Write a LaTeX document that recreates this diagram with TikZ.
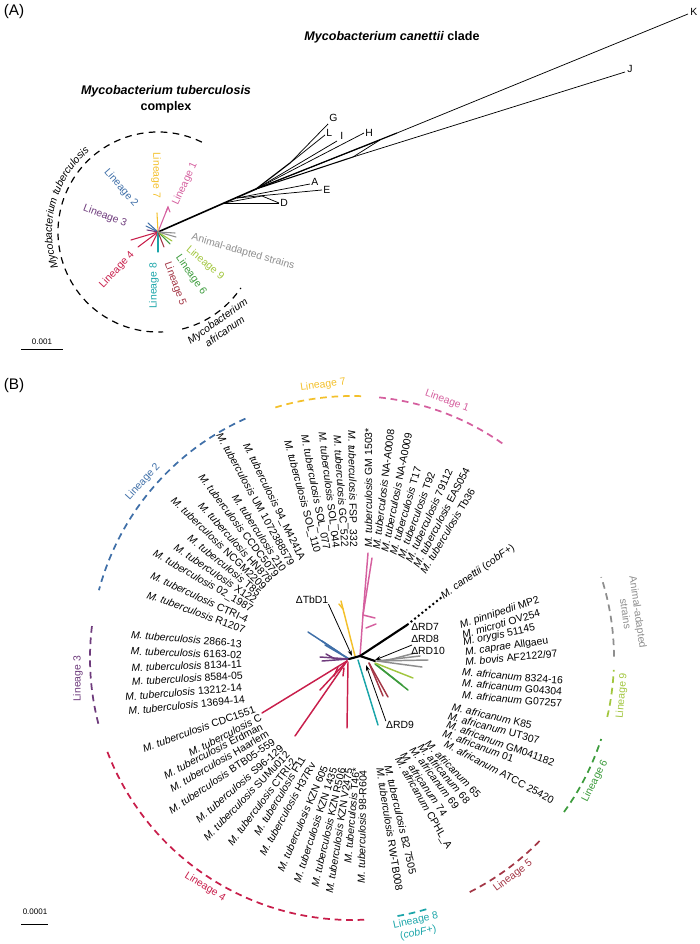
\documentclass[tikz,border=0pt]{standalone}
\usepackage{fontspec}
\setmainfont{Liberation Sans}
\usetikzlibrary{arrows.meta,calc,decorations.text}
\definecolor{cLa}{HTML}{D5609F}
\definecolor{cLg}{HTML}{F3C02B}
\definecolor{cLb}{HTML}{3F6FA8}
\definecolor{cLc}{HTML}{6E3B7C}
\definecolor{cLd}{HTML}{C81E4B}
\definecolor{cLh}{HTML}{1BA5A9}
\definecolor{cLe}{HTML}{A33645}
\definecolor{cLf}{HTML}{3C9B3C}
\definecolor{cLi}{HTML}{A2C63F}
\definecolor{cAn}{HTML}{8E8E8E}
\newcommand\Mtb{\textit{M. tuberculosis}}
\newcommand\Maf{\textit{M. africanum}}
\newcommand\lfR[4]{\path (C) ++(#2:111) node[leaf,anchor=west,rotate=#3] (#1) {#4};}
\newcommand\lfL[4]{\path (C) ++(#2:111) node[leaf,anchor=east,rotate=#3] (#1) {#4};}
\newcommand\aR[5]{\node[leaf,anchor=west,rotate=#4] (#1) at (#2,-#3) {#5};}
\newcommand\aL[5]{\node[leaf,anchor=east,rotate=#4] (#1) at (#2,-#3) {#5};}
\begin{document}
\begin{tikzpicture}[x=0.75pt,y=0.75pt,
  lbl/.style={font=\fontsize{7.8}{9.4}\selectfont, inner sep=0pt, align=center},
  leaf/.style={font=\fontsize{7.8}{9.4}\selectfont, inner sep=0pt},
  ttl/.style={font=\fontsize{9.4}{12}\selectfont\bfseries, inner sep=0pt, align=center},
  panel/.style={font=\fontsize{11.5}{13}\selectfont, inner sep=0pt},
  arcA/.style={line width=0.9pt, dash pattern=on 5pt off 4pt},
  arcB/.style={line width=1.3pt, dash pattern=on 5pt off 3.6pt},
  brA/.style={line width=0.55pt},
  brC/.style={line width=0.8pt, line cap=round},
  brB/.style={line width=1.1pt, line cap=round},
  blk/.style={line width=1.6pt, line cap=round},
  pt/.style={-{Stealth[length=4.5pt,width=3pt]}, line width=0.6pt},
  tip/.style={font=\fontsize{7.8}{9.4}\selectfont, inner sep=0pt, anchor=west},
]
\useasboundingbox (0,0) rectangle (699,-944);

% ---------------- Panel A ----------------
\node[panel] (pA) at (14,-12) {(A)};
\node[ttl] (tcan) at (392,-37) {\textit{Mycobacterium canettii} clade};
\node[ttl] (tmtbc) at (166,-99) {\textit{Mycobacterium tuberculosis}\\complex};

\coordinate (P) at (158,-232);
\coordinate (T1) at (224,-203);
\coordinate (T2) at (237,-198);
\coordinate (T3) at (256,-189);
\coordinate (T4) at (290,-163);
\coordinate (T5) at (353,-157);
\coordinate (T6) at (397,-133);
\coordinate (eK) at (688,-14);
\coordinate (eJ) at (625,-72);
\coordinate (eH) at (364,-133);
\coordinate (eI) at (337,-141);
\coordinate (eL) at (325,-135);
\coordinate (eG) at (328,-124);
\coordinate (eA) at (310,-184);
\coordinate (eE) at (322,-190);
\coordinate (eD) at (279,-203);
\coordinate (eX) at (380,-140);

\draw[line width=1.2pt] (P) -- (T3);
\draw[brA] (T1) -- (eD);
\draw[brA] (T1) -- (262,-196) -- (eD);
\draw[brA] (T2) -- (eA);
\draw[brA] (T2) -- (eE);
\draw[line width=0.9pt] (T3) -- (T4);
\draw[brA] (T4) -- (eG);
\draw[brA] (T4) -- (eL);
\draw[brA] (T3) -- (eI);
\draw[brA] (T3) -- (eH);
\draw[line width=0.9pt] (T3) -- (T6);
\draw[brA] (T6) -- (eK);
\draw[brA] (T3) -- (eX);
\draw[line width=0.8pt] (T3) -- (T5);
\draw[brA] (T5) -- (eJ);
\draw[brA] (T5) -- (eX);

\node[tip] (nK) at (690,-12) {K};
\node[tip] (nJ) at (627,-69) {J};
\node[tip] (nH) at (365,-133) {H};
\node[tip] (nI) at (340,-136) {I};
\node[tip] (nL) at (326,-133) {L};
\node[tip] (nG) at (329,-118) {G};
\node[tip] (nA) at (311,-182) {A};
\node[tip] (nE) at (323,-190) {E};
\node[tip] (nD) at (280,-203) {D};

% small coloured star
\draw[brC,cLa] (P) -- (168,-207);
\draw[brC,cLa] (166,-212) -- (168,-207) -- (170,-212);
\draw[brC,cLg] (P) -- (157,-213);
\draw[brC,cLb] (P) -- (148,-223);
\draw[brC,cLb] (P) -- (146,-226);
\draw[brC,cLc] (P) -- (147,-230);
\draw[brC,cLd] (P) -- (131,-240);
\draw[brC,cLd] (P) -- (138,-247);
\draw[brC,cLd] (P) -- (151,-246);
\draw[brC,cLh] (P) -- (158,-252);
\draw[brC,cLe] (P) -- (164,-247);
\draw[brC,cLf] (P) -- (170,-244);
\draw[brC,cLi] (P) -- (172,-241);
\draw[brC,cAn] (P) -- (176,-237);
\draw[brC,cAn] (P) -- (175,-233);

% arcs
\draw[arcA] (P) ++(64:100) arc[start angle=64, end angle=273, radius=100];
\draw[arcA] (P) ++(284:100) arc[start angle=284, end angle=326, radius=100];
\path[decorate, decoration={text along path, text align=center,
   text={|\fontsize{7.8}{9}\selectfont\itshape|Mycobacterium tuberculosis}}]
   (P) ++(214:106) arc[start angle=214, end angle=116, radius=106];
\node[lbl,rotate=35] (tMaf) at (221,-326) {\textit{Mycobacterium}\\\textit{africanum}};

% lineage labels panel A
\node[lbl,cLa,rotate=65] (a1) at (185,-184) {Lineage 1};
\node[lbl,cLg,rotate=-90] (a7) at (156,-175) {Lineage 7};
\node[lbl,cLb,rotate=-49] (a2) at (121,-188) {Lineage 2};
\node[lbl,cLc,rotate=-21] (a3) at (105,-216) {Lineage 3};
\node[lbl,cLd,rotate=47] (a4) at (117,-270) {Lineage 4};
\node[lbl,cLh,rotate=90] (a8) at (154,-286) {Lineage 8};
\node[lbl,cLe,rotate=-70] (a5) at (175,-284) {Lineage 5};
\node[lbl,cLf,rotate=-55] (a6) at (191,-275) {Lineage 6};
\node[lbl,cLi,rotate=-40] (a9) at (205,-263) {Lineage 9};
\node[lbl,cAn,rotate=-16] (aan) at (243,-252) {Animal-adapted strains};

% scale bar A
\coordinate (sA1) at (21,-349);
\coordinate (sA2) at (63,-349);
\draw[line width=0.6pt] (sA1) -- (sA2);
\node[font=\fontsize{6}{7}\selectfont, inner sep=0pt] (sAt) at (42,-342) {0.001};

% ---------------- Panel B ----------------
\node[panel] (pB) at (14,-386) {(B)};
\coordinate (C) at (352,-658);

% lineage arcs
\draw[arcB,cLa] (C) ++(55:262) arc[start angle=55, end angle=85, radius=262];
\draw[arcB,cLg] (C) ++(88:262) arc[start angle=88, end angle=108, radius=262];
\draw[arcB,cLb] (C) ++(114:262) arc[start angle=114, end angle=165, radius=262];
\draw[arcB,cLc] (C) ++(173:262) arc[start angle=173, end angle=195, radius=262];
\draw[arcB,cLd] (C) ++(201:262) arc[start angle=201, end angle=273.5, radius=262];
\draw[arcB,cLh] (C) ++(280:262) arc[start angle=280, end angle=287, radius=262];
\draw[arcB,cLe] (C) ++(296.7:262) arc[start angle=296.7, end angle=316, radius=262];
\draw[arcB,cLf] (C) ++(324:262) arc[start angle=324, end angle=342, radius=262];
\draw[arcB,cLi] (C) ++(347:262) arc[start angle=347, end angle=357.4, radius=262];
\draw[arcB,cAn] (C) ++(0.3:262) arc[start angle=0.3, end angle=18, radius=262];

% lineage labels panel B
\node[lbl,cLa,rotate=-20] (b1) at (447,-401) {Lineage 1};
\node[lbl,cLg,rotate=8] (b7) at (323,-385) {Lineage 7};
\node[lbl,cLb,rotate=48] (b2) at (143,-482) {Lineage 2};
\node[lbl,cLc,rotate=90] (b3) at (78,-679) {Lineage 3};
\node[lbl,cLd,rotate=-32] (b4) at (205,-887) {Lineage 4};
\node[lbl,cLh,rotate=12] (b8) at (417,-927) {Lineage 8\\(\textit{cobF}+)};
\node[lbl,cLe,rotate=37] (b5) at (513,-876) {Lineage 5};
\node[lbl,cLf,rotate=63] (b6) at (595,-781) {Lineage 6};
\node[lbl,cLi,rotate=85] (b9) at (622,-696) {Lineage 9};
\node[lbl,cAn,rotate=-82] (ban) at (632,-613) {Animal-adapted\\strains};

% tree
\coordinate (N0) at (349,-659);
\coordinate (N1) at (360,-656);
\coordinate (N2) at (375,-661);
\coordinate (Nc) at (407,-625);
\coordinate (Ncd) at (442,-597);
\draw[brB,cLa] (N1) -- (363,-615) -- (368,-553);
\draw[brB,cLa] (363,-615) -- (372,-558);
\draw[brB,cLa] (363,-615) -- (375,-618);
\draw[brB,cLa] (366,-628) -- (376,-624);
\draw[brB,cLg] (355,-656) -- (341,-601);
\draw[brB,cLg] (343,-609) -- (339,-604);
\draw[brB,cLb] (N0) -- (308,-632);
\draw[brB,cLb] (N0) -- (325,-645);
\draw[brB,cLb] (340,-653) -- (322,-641);
\draw[brB,cLc] (N0) -- (320,-657);
\draw[brB,cLc] (N0) -- (322,-661);
\draw[brB,cLc] (335,-659) -- (326,-654);
\draw[brB,cLd] (347,-661) -- (262,-713);
\draw[brB,cLd] (347,-661) -- (295,-736);
\draw[brB,cLd] (348,-662) -- (347,-728);
\draw[brB,cLd] (347,-661) -- (320,-690);
\draw[brB,cLd] (344,-668) -- (343,-676);
\draw[brB,cLd] (338,-667) -- (334,-676);
\draw[brB,cLh] (358,-660) -- (378,-725);
\draw[brB,cLe] (369,-663) -- (388,-697);
\draw[brB,cLe] (369,-663) -- (383,-696);
\draw[brB,cLf] (375,-664) -- (408,-690);
\draw[brB,cLf] (378,-666) -- (402,-685);
\draw[brB,cLi] (375,-663) -- (413,-678);
\draw[brB,cAn] (377,-661) -- (428,-660);
\draw[brB,cAn] (377,-661) -- (420,-656);
\draw[brB,cAn] (377,-661) -- (422,-667);
\draw[brB,cAn] (385,-661) -- (415,-653);
\draw[blk] (N0) -- (N1) -- (N2);
\draw[blk] (N1) -- (Nc);
\draw[line width=1.5pt, dash pattern=on 1.5pt off 2pt] (Nc) -- (Ncd);

% deletion markers
\node[leaf] (dT) at (312,-600) {ΔTbD1};
\draw[pt] (dT.south east) -- (352,-656);
\node[leaf,anchor=west,align=left,font=\fontsize{7.8}{9}\selectfont] (dR) at (411,-639) {ΔRD7\\ΔRD8\\ΔRD10};
\draw[pt] (412,-645) -- (375,-660);
\node[leaf] (d9) at (400,-725) {ΔRD9};
\draw[pt] (d9.north west) -- (366,-665);

\node[leaf,anchor=west,rotate=35] (can) at (Ncd) {\textit{M. canettii} (\textit{cobF}+)};

% Lineage 1
\lfR{la1}{81.5}{90}{\Mtb\ GM 1503*}
\lfR{la2}{77.5}{83}{\Mtb\ NA-A0008}
\lfR{la3}{73}{78.5}{\Mtb\ NA-A0009}
\lfR{la4}{68.5}{74}{\Mtb\ T17}
\lfR{la5}{64}{70}{\Mtb\ T92}
\lfR{la6}{59.5}{66}{\Mtb\ 79112}
\lfR{la7}{55}{62.5}{\Mtb\ EAS054}
\lfR{la8}{50.5}{59}{\Mtb\ Tb36}
% Lineage 7
\lfL{lg1}{89.5}{-89}{\Mtb\ FSP\_332}
\lfL{lg2}{94}{-86}{\Mtb\ GC\_522}
\lfL{lg3}{98.5}{-83}{\Mtb\ SOL\_044}
\lfL{lg4}{103.5}{-79}{\Mtb\ SOL\_077}
\lfL{lg5}{108.5}{-75}{\Mtb\ SOL\_110}
% Lineage 2
\aL{lb1}{302}{560}{-64}{\Mtb\ 94\_M4241A}
\aL{lb2}{292}{565}{-61}{\Mtb\ UM 1072388579}
\aL{lb3}{284}{571}{-57}{\Mtb\ 210}
\aL{lb4}{277}{576}{-53}{\Mtb\ CCDC5079}
\aL{lb5}{271}{582}{-48}{\Mtb\ HN878}
\aL{lb6}{265}{588}{-44}{\Mtb\ NCGM2209}
\aL{lb7}{260}{594}{-39}{\Mtb\ T85}
\aL{lb8}{256}{601}{-34}{\Mtb\ X122}
\aL{lb9}{252}{610}{-30}{\Mtb\ 02\_1987}
\aL{lb10}{248}{620}{-25}{\Mtb\ CTRI-4}
\aL{lb11}{245}{630}{-20}{\Mtb\ R1207}
% Lineage 3
\aL{lc1}{242}{644}{-5}{\Mtb\ 2866-13}
\aL{lc2}{242}{655}{-2}{\Mtb\ 6163-02}
\aL{lc3}{242}{664}{2}{\Mtb\ 8134-11}
\aL{lc4}{243}{675}{3.5}{\Mtb\ 8584-05}
\aL{lc5}{242}{687}{5}{\Mtb\ 13212-14}
\aL{lc6}{245}{699}{6}{\Mtb\ 13694-14}
% Lineage 4
\aL{ld1}{255}{709}{19.5}{\Mtb\ CDC1551}
\aL{ld2}{261}{717}{27}{\Mtb\ C}
\aL{ld3}{262}{726}{27}{\Mtb\ Erdman}
\aL{ld4}{268}{733}{30}{\Mtb\ Haarlem}
\aL{ld5}{274}{741}{34}{\Mtb\ BTB05-559}
\aL{ld6}{282}{747}{41}{\Mtb\ S96-129}
\aL{ld7}{288}{753}{46}{\Mtb\ SUMu012}
\aL{ld8}{294}{759}{53}{\Mtb\ CTRI-2}
\aL{ld9}{303}{757}{59}{\Mtb\ F11}
\aL{ld10}{313}{763}{61}{\Mtb\ H37Rv}
\aL{ld11}{325}{766}{67}{\Mtb\ KZN 605}
\aL{ld12}{334}{768}{72}{\Mtb\ KZN 1435}
\aL{ld13}{342}{768}{77}{\Mtb\ KZN R506}
\aL{ld14}{349}{768}{81}{\Mtb\ KZN V2475}
\aL{ld15}{356}{768}{85}{\Mtb\ T46*}
\aL{ld16}{363}{770}{89}{\Mtb\ 98-R604}
% Lineage 8
\aR{lh1}{380}{768}{-81}{\Mtb\ RW-TB008}
\aR{lh2}{388}{765}{-77}{\Mtb\ B2 7505}
% Lineage 5
\aR{le1}{397}{758}{-60}{\Maf\ CPHL\_A}
\aR{le2}{403}{753}{-56}{\Maf\ 74}
\aR{le3}{412}{748}{-53}{\Maf\ 69}
\aR{le4}{420}{745}{-50}{\Maf\ 68}
\aR{le5}{427}{742}{-46}{\Maf\ 65}
% Lineage 6
\aR{lf1}{445}{743}{-28}{\Maf\ ATCC 25420}
\aR{lf2}{443}{733}{-20}{\Maf\ 01}
\aR{lf3}{447}{724}{-20}{\Maf\ GM041182}
\aR{lf4}{448}{716}{-15}{\Maf\ UT307}
\aR{lf5}{452}{707}{-13}{\Maf\ K85}
% Lineage 9
\aR{li1}{462}{695}{-5}{\Maf\ G07257}
\aR{li2}{462}{683}{-5}{\Maf\ G04304}
\aR{li3}{462}{672}{-4.8}{\Maf\ 8324-16}
% Animal-adapted
\aR{ln1}{465}{662}{5.4}{\textit{M. bovis} AF2122/97}
\aR{ln2}{465}{653}{8.3}{\textit{M. caprae} Allgaeu}
\aR{ln3}{463}{643}{11.8}{\textit{M. orygis} 51145}
\aR{ln4}{462}{635}{16}{\textit{M. microti} OV254}
\aR{ln5}{460}{626}{18.4}{\textit{M. pinnipedii} MP2}

% scale bar B
\coordinate (sB1) at (21,-924);
\coordinate (sB2) at (48,-924);
\draw[line width=0.6pt] (sB1) -- (sB2);
\node[font=\fontsize{6}{7}\selectfont, inner sep=0pt] (sBt) at (35,-912) {0.0001};
\end{tikzpicture}
\end{document}
